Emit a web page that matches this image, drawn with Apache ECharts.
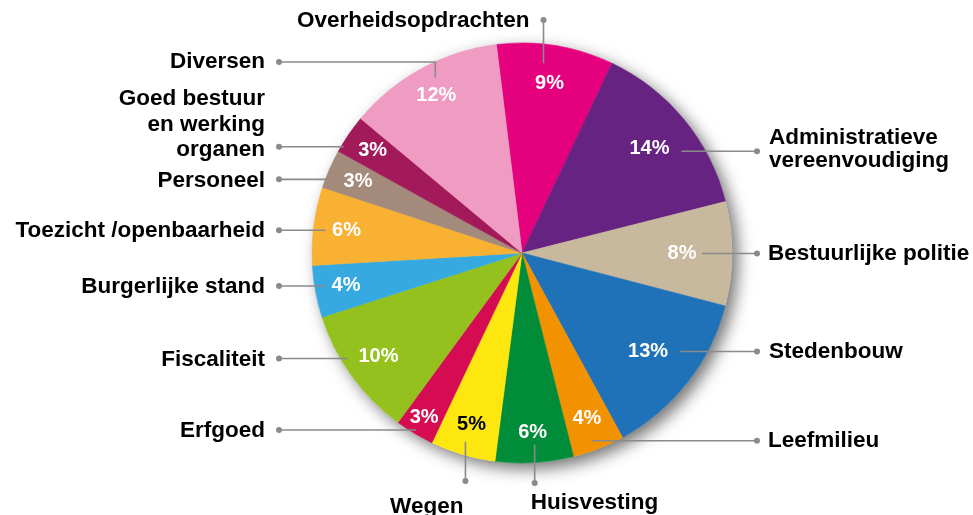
<!DOCTYPE html>
<html>
<head>
<meta charset="utf-8">
<script src="https://cdn.jsdelivr.net/npm/echarts@6/dist/echarts.min.js"></script>
<style>
  html, body { margin: 0; padding: 0; background: #fff; }
  #chart { width: 973px; height: 515px; }
</style>
</head>
<body>
<div id="chart"></div>
<script>
// slices, clockwise from the top
var names = [
  'Overheidsopdrachten',
  'Administratieve\nvereenvoudiging',
  'Bestuurlijke politie',
  'Stedenbouw',
  'Leefmilieu',
  'Huisvesting',
  'Wegen',
  'Erfgoed',
  'Fiscaliteit',
  'Burgerlijke stand',
  'Toezicht /openbaarheid',
  'Personeel',
  'Goed bestuur\nen werking\norganen',
  'Diversen'
]
var values = [9, 14, 8, 13, 4, 6, 5, 3, 10, 4, 6, 3, 3, 12]

var colors = [
  '#e5007d', '#662382', '#c8b89d', '#1f71b8', '#f39200', '#008c39', '#fde70f',
  '#d50c52', '#95c11f', '#36a9e0', '#f8b133', '#a38a7a', '#a21a5a', '#f09cc2'
]
var pctColors = ['#fff', '#fff', '#fff', '#fff', '#fff', '#fff', '#000', '#fff', '#fff', '#fff', '#fff', '#fff', '#fff', '#fff']

var FONT = '"Liberation Sans", Arial, sans-serif'
var CX = 522
var CY = 253
var R = 210
var START = 97
var LEFT_X = 279
var RIGHT_X = 757

// distance of the % label from the centre
var pctRadius = [172, 165, 160, 160, 178, 180, 179, 191, 177, 179, 177, 179, 181, 179]
// leader lines: start offset from the % label, then to a column (h), a row (v) or both (elbow)
var leader = [
  { kind: 'v', off: [-6, -20], end: 20 },
  { kind: 'h', off: [32, 3], end: RIGHT_X },
  { kind: 'h', off: [20, 0], end: RIGHT_X },
  { kind: 'h', off: [32, 0], end: RIGHT_X },
  { kind: 'h', off: [5, 22], end: RIGHT_X },
  { kind: 'v', off: [2, 12], end: 483 },
  { kind: 'v', off: [-6, 17], end: 481 },
  { kind: 'h', off: [-8, 13], end: LEFT_X },
  { kind: 'h', off: [-31, 2], end: LEFT_X },
  { kind: 'h', off: [-21, 0], end: LEFT_X },
  { kind: 'h', off: [-21, 0], end: LEFT_X },
  { kind: 'h', off: [-32, -2], end: LEFT_X },
  { kind: 'h', off: [-29, -4], end: LEFT_X },
  { kind: 'elbow', off: [-1, -18], end: [62, LEFT_X] }
]
// name text relative to the dot: dx, dy, align, verticalAlign
var txt = [
  [-14, 1, 'right', 'middle'],
  [12, -2, 'left', 'middle'],
  [11, 0, 'left', 'middle'],
  [12, 0, 'left', 'middle'],
  [11, 0, 'left', 'middle'],
  [-4, 20, 'left', 'middle'],
  [-2, 26, 'right', 'middle'],
  [-14, 1, 'right', 'middle'],
  [-14, 1, 'right', 'middle'],
  [-14, 1, 'right', 'middle'],
  [-14, 1, 'right', 'middle'],
  [-14, 1, 'right', 'middle'],
  [-14, 16, 'right', 'bottom'],
  [-14, 0, 'right', 'middle']
]
var lineHeights = [22, 23, 22, 22, 22, 22, 22, 22, 22, 22, 22, 22, 25.5, 22]

var total = values.reduce(function (s, v) { return s + v }, 0)

// mid angle of slice i, degrees clockwise from 12 o'clock
function midAngle(i) {
  var before = 0
  for (var k = 0; k < i; k++) before += values[k]
  return (90 - START) + 360 * (before + values[i] / 2) / total
}
function pctAnchor(i) {
  var a = midAngle(i) * Math.PI / 180
  return [CX + pctRadius[i] * Math.sin(a), CY - pctRadius[i] * Math.cos(a)]
}
function leaderPoints(i) {
  var p = pctAnchor(i)
  var l = leader[i]
  var s = [p[0] + l.off[0], p[1] + l.off[1]]
  if (l.kind === 'h') return [s, [l.end, s[1]]]
  if (l.kind === 'v') return [s, [s[0], l.end]]
  return [s, [s[0], l.end[0]], [l.end[1], l.end[0]]]
}

var sliceData = names.map(function (n, i) {
  return { name: n, value: values[i], itemStyle: { color: colors[i], borderColor: colors[i] } }
})
var nameData = names.map(function (n, i) {
  return { name: n, value: values[i], label: { lineHeight: lineHeights[i] } }
})
var pctData = names.map(function (n, i) {
  return { name: n, value: values[i], label: { color: pctColors[i] } }
})
var dotData = names.map(function (n, i) {
  return { name: n, value: values[i] }
})

var clear = { color: 'rgba(0,0,0,0)', borderWidth: 0 }

var chart = echarts.init(document.getElementById('chart'))
chart.setOption({
  animation: false,
  backgroundColor: '#fff',
  series: [
    {
      // white disc carrying the drop shadow
      type: 'pie',
      z: 1,
      silent: true,
      center: [CX, CY],
      radius: R,
      label: { show: false },
      labelLine: { show: false },
      itemStyle: {
        color: '#fff',
        borderWidth: 0,
        shadowBlur: 16,
        shadowOffsetX: 6,
        shadowOffsetY: 6,
        shadowColor: 'rgba(0, 0, 0, 0.55)'
      },
      data: [{ value: 1, name: '' }]
    },
    {
      type: 'pie',
      z: 2,
      silent: true,
      center: [CX, CY],
      radius: R,
      startAngle: START,
      clockwise: true,
      itemStyle: { borderWidth: 0.6 },
      label: { show: false },
      labelLine: { show: false },
      data: sliceData
    },
    {
      // names with their leader lines
      type: 'pie',
      z: 3,
      silent: true,
      center: [CX, CY],
      radius: R,
      startAngle: START,
      clockwise: true,
      avoidLabelOverlap: false,
      itemStyle: clear,
      label: {
        show: true,
        position: 'outside',
        formatter: '{b}',
        fontFamily: FONT,
        fontWeight: 'bold',
        fontSize: 22.5,
        color: '#000',
        lineHeight: 22,
        overflow: 'none'
      },
      labelLine: {
        show: true,
        lineStyle: { color: '#8a8a8a', width: 1.6 }
      },
      labelLayout: function (p) {
        var pts = leaderPoints(p.dataIndex)
        var dot = pts[pts.length - 1]
        var t = txt[p.dataIndex]
        return {
          x: dot[0] + t[0],
          y: dot[1] + t[1],
          align: t[2],
          verticalAlign: t[3],
          labelLinePoints: pts
        }
      },
      data: nameData
    },
    {
      // percentage labels
      type: 'pie',
      z: 4,
      silent: true,
      center: [CX, CY],
      radius: R,
      startAngle: START,
      clockwise: true,
      itemStyle: clear,
      label: {
        show: true,
        position: 'inside',
        formatter: '{c}%',
        fontFamily: FONT,
        fontWeight: 'bold',
        fontSize: 20,
        color: '#fff'
      },
      labelLine: { show: false },
      labelLayout: function (p) {
        var a = pctAnchor(p.dataIndex)
        return { x: a[0], y: a[1], align: 'center', verticalAlign: 'middle' }
      },
      data: pctData
    },
    {
      // dots at the end of the leader lines
      type: 'pie',
      z: 5,
      silent: true,
      center: [CX, CY],
      radius: R,
      startAngle: START,
      clockwise: true,
      itemStyle: clear,
      label: {
        show: true,
        position: 'inside',
        formatter: '{dot|}',
        rich: {
          dot: { width: 6, height: 6, borderRadius: 3, backgroundColor: '#8a8a8a' }
        }
      },
      labelLine: { show: false },
      labelLayout: function (p) {
        var pts = leaderPoints(p.dataIndex)
        var dot = pts[pts.length - 1]
        return { x: dot[0], y: dot[1], align: 'center', verticalAlign: 'middle' }
      },
      data: dotData
    }
  ]
})
</script>
</body>
</html>
